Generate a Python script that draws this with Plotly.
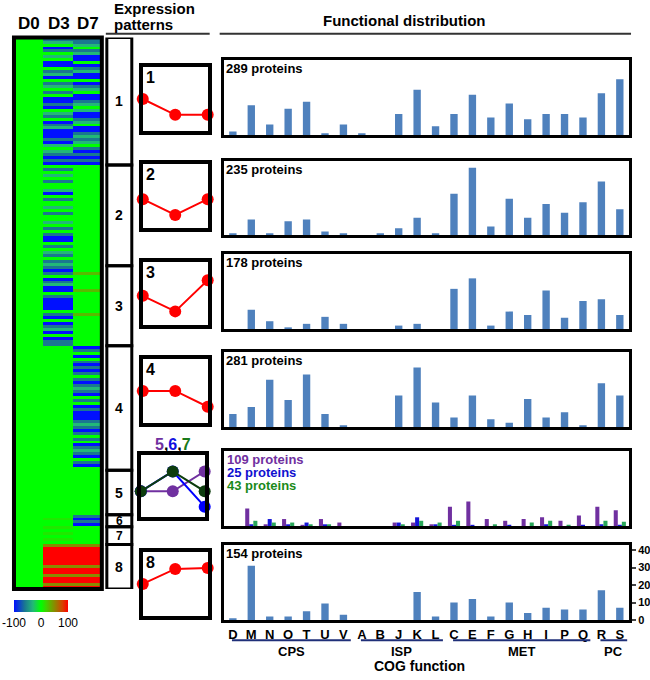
import plotly.graph_objects as go

W, H = 650, 680
def PX(x): return x / W
def PY(y): return 1 - y / H

FONT = "Arial, 'Liberation Sans', Helvetica, sans-serif"

# ---------------- data ----------------
categories = ["D", "M", "N", "O", "T", "U", "V", "A", "B", "J", "K", "L",
              "C", "E", "F", "G", "H", "I", "P", "Q", "R", "S"]
cluster_names = ["1", "2", "3", "4", "5", "6", "7", "8"]
protein_counts = [289, 235, 178, 281, 109, 25, 43, 154]

cog_c1 = [2, 17, 6, 15, 19, 1, 6, 1, 0, 12, 26, 5, 12, 23, 10, 18, 9, 12, 12, 10, 24, 32]
cog_c2 = [1, 9, 1, 8, 9, 2, 1, 0, 1, 4, 10, 1, 24, 39, 5, 21, 10, 18, 13, 19, 31, 15]
cog_c3 = [0, 11, 4.5, 1, 3, 7, 3, 0, 0, 2, 3, 0, 23, 29, 2, 10, 8, 22, 6.5, 16, 17, 8]
cog_c4 = [7.5, 11.5, 27, 15.5, 30, 7.5, 1, 0, 0, 18, 34, 14, 5.5, 18, 4.5, 2.5, 16, 5.5, 8.5, 1, 25, 18]
cog_c5 = [0, 10, 1, 4, 0.5, 4, 2, 0, 0, 2, 2, 1, 11, 14, 4, 3, 4, 5, 3, 6, 11, 9]
cog_c6 = [0, 1, 4, 1, 2, 1, 0, 0, 0, 2, 5, 1, 0.5, 0.5, 0, 0.5, 0, 1, 0, 0.5, 1, 0.5]
cog_c7 = [0, 3, 2, 2, 1, 1, 0, 0, 0, 1, 3, 2, 3, 0, 1, 0, 2, 3, 0.5, 0, 3, 2.5]
cog_c8 = [1, 31, 2, 2, 5, 9.5, 3, 0, 0, 0, 16, 2, 10, 12, 2, 10, 4, 7, 6, 6, 17, 7]

cog_groups = ["CPS", "ISP", "MET", "PC"]
group_first = [0, 7, 12, 20]
group_last = [6, 11, 19, 21]

# expression patterns (relative level at D0, D3, D7)
days = [0, 1, 2]
pat1 = [0, -1, -1]
pat2 = [-0.2, -1.2, -0.2]
pat3 = [-0.15, -1.15, 0.85]
pat4 = [0, 0, -1]
pat5 = [-0.35, -0.35, 0.95]
pat6 = [-0.35, 0.95, -1.35]
pat7 = [-0.35, 0.95, -0.35]
pat8 = [0, 0.95, 1.0]

# heatmap stripes (codes per ~3px row), D0 is the baseline (0)
code_values = {"B": -100, "T": -60, "t": -30, "G": 0, "g": 10, "o": 30, "O": 50, "R": 100}
heat_d3 = [
    "TtGBTGtGBB" "GTtBGTtGTG" "BBTBGtTGBT" "tBBBTBtGtT" "BTB",
    "GTGtGTGGtB" "GTGGtGTGGt" "GTGTBBGTGt" "TGTt",
    "TBTGBTtBBG" "TBBBBGTBGB" "TtBGBTT",
    "GGGGGGGGGG" "GGGGGGGGGG" "GGGGGGGGGG" "GGGGGGGGGG" "GG",
    "GGGGGGGGGG" "GGGGG",
    "GgGG",
    "gGgGgG",
    "ORRRRRROR" "RORROR",
]
heat_d7 = [
    "TTtGTtBBGB" "TtBBGBTtGB" "BTtGtBBTtG" "BBTtTtGTBT" "BTB",
    "GGGGGGGGGG" "GGGGGGGGGG" "GGGGGGGGGG" "GGGG",
    "GGoGGGGGoG" "GGGGGGoGGG" "GGGGGGG",
    "BTGBGTBTBT" "GTBTtTBGTG" "BTBBBTtTBT" "GTGBTtTBGT" "BG",
    "GGGGGGGGGG" "GGGGG",
    "TBTB",
    "GGGGGG",
    "ORRRRRROR" "RORROR",
]
heat_cols = ["D0", "D3", "D7"]
d0_level = 0

# ---------------- build ----------------
z = []
bounds = [0]
for a_str, b_str in zip(heat_d3, heat_d7):
    for a, b in zip(a_str, b_str):
        z.append([d0_level, code_values[a], code_values[b]])
    bounds.append(len(z))
N = len(z)

colorscale = [[0.0, "#0010ff"], [0.2, "#1a7890"], [0.35, "#22b878"], [0.5, "#00ff00"],
              [0.6, "#40d000"], [0.75, "#8a8a00"], [0.9, "#d84000"], [1.0, "#ff0000"]]

fig = go.Figure()
layout = dict(width=W, height=H, margin=dict(l=0, r=0, t=0, b=0),
              paper_bgcolor="white", plot_bgcolor="white", showlegend=False,
              font=dict(family=FONT, color="black"))

fig.add_trace(go.Heatmap(
    z=z, x=[0, 1, 2], y=list(range(N)), colorscale=colorscale, zmin=-100, zmax=100,
    xaxis="x", yaxis="y", hoverinfo="skip",
    colorbar=dict(orientation="h", x=PX(14), xanchor="left", y=PY(605), yanchor="top",
                  len=54, lenmode="pixels", thickness=12, thicknessmode="pixels",
                  tickvals=[-100, 0, 100], ticktext=["-100", "0", "100"], ticks="",
                  outlinewidth=0, xpad=0, ypad=0, tickfont=dict(size=12, family=FONT))))
layout["xaxis"] = dict(domain=[PX(14), PX(102)], range=[-0.5, 2.5], visible=False, anchor="y")
layout["yaxis"] = dict(domain=[PY(594), PY(37)], range=[N - 0.5, -0.5], visible=False, anchor="x")

shapes = []
ann = []

def A(text, x, y, size=13, color="black", xanchor="center", yanchor="middle", align="center", **kw):
    d = dict(text=text, x=x, y=y, showarrow=False, xanchor=xanchor, yanchor=yanchor, align=align,
             font=dict(size=size, color=color, family=FONT), xref=kw.pop("xref", "paper"),
             yref=kw.pop("yref", "paper"))
    d.update(kw)
    ann.append(d)

# heatmap frame
shapes.append(dict(type="rect", xref="paper", yref="paper", x0=PX(14), x1=PX(102), y0=PY(594), y1=PY(37),
                   line=dict(color="black", width=4)))
for i, name in enumerate(heat_cols):
    A("<b>%s</b>" % name, PX([29, 59, 88][i]), PY(23), size=17)

# cluster boxes
for k in range(len(cluster_names)):
    shapes.append(dict(type="rect", xref="paper", yref="y", x0=PX(107), x1=PX(132),
                       y0=bounds[k] - 0.5, y1=bounds[k + 1] - 0.5, line=dict(color="black", width=3)))
    A("<b>%s</b>" % cluster_names[k], PX(119.5), (bounds[k] + bounds[k + 1] - 1) / 2,
      size=14 if k not in (5, 6) else 12, yref="y")

# headers
A("<b>Expression</b>", PX(112), PY(8), size=15, xanchor="left", align="left")
A("<b>patterns</b>", PX(112), PY(23.5), size=15, xanchor="left", align="left")
shapes.append(dict(type="line", xref="paper", yref="paper", x0=PX(106), x1=PX(210), y0=PY(33), y1=PY(33),
                   line=dict(color="#333333", width=2)))
A("<b>Functional distribution</b>", PX(405), PY(20), size=15)
shapes.append(dict(type="line", xref="paper", yref="paper", x0=PX(220), x1=PX(632), y0=PY(33), y1=PY(33),
                   line=dict(color="#333333", width=2)))

# pattern boxes
pattern_boxes = [(141, 210, 65, 133), (141, 210, 163, 231), (141, 210, 262, 329),
                 (141, 210, 360, 428), (139, 207, 457, 523), (141, 210, 555, 623)]
pattern_series = [[(pat1, "#ff0000")], [(pat2, "#ff0000")], [(pat3, "#ff0000")], [(pat4, "#ff0000")],
                  [(pat5, "#7030a0"), (pat6, "#0000ff"), (pat7, "#0d3d0d")], [(pat8, "#ff0000")]]
pattern_labels = ["1", "2", "3", "4", None, "8"]
for i, (bx0, bx1, by0, by1) in enumerate(pattern_boxes):
    n = i + 2
    xa, ya = "x%d" % n, "y%d" % n
    layout["xaxis%d" % n] = dict(domain=[PX(bx0 + 2), PX(bx1 - 2)], range=[0, 2], anchor=ya,
                                 showline=True, mirror=True, linewidth=4, linecolor="black",
                                 showticklabels=False, ticks="", showgrid=False, zeroline=False)
    layout["yaxis%d" % n] = dict(domain=[PY(by1 - 2), PY(by0 + 2)], range=[-2, 2], anchor=xa,
                                 showline=True, mirror=True, linewidth=4, linecolor="black",
                                 showticklabels=False, ticks="", showgrid=False, zeroline=False)
    for vals, col in pattern_series[i]:
        fig.add_trace(go.Scatter(x=days, y=vals, xaxis=xa, yaxis=ya, mode="lines+markers",
                                 line=dict(color=col, width=2), marker=dict(color=col, size=12),
                                 cliponaxis=False, hoverinfo="skip"))
    if pattern_labels[i]:
        A("<b>%s</b>" % pattern_labels[i], PX(bx0 + 10), PY(by0 + 12), size=16)
A("<b><span style='color:#7030a0'>5</span>,<span style='color:#1010e0'>6</span>,"
  "<span style='color:#1a7a1a'>7</span></b>", PX(173), PY(448), size=16)

# bar panels
bar_boxes = [(58, 137), (160, 238), (254, 333), (353, 432), (453, 532), (548, 627)]
bar_sets = [[(cog_c1, "#4f81bd")], [(cog_c2, "#4f81bd")], [(cog_c3, "#4f81bd")], [(cog_c4, "#4f81bd")],
            [(cog_c5, "#7030a0"), (cog_c6, "#1515d8"), (cog_c7, "#29a85a")], [(cog_c8, "#4f81bd")]]
panel_counts = [[0], [1], [2], [3], [4, 5, 6], [7]]
text_colors = ["#7030a0", "#1010d0", "#1a8a1a"]
xidx = list(range(len(categories)))
for i, (by0, by1) in enumerate(bar_boxes):
    n = i + 8
    xa, ya = "x%d" % n, "y%d" % n
    last = (i == len(bar_boxes) - 1)
    layout["xaxis%d" % n] = dict(domain=[PX(224), PX(630)], range=[-0.5, len(categories) - 0.5], anchor=ya,
                                 showline=True, mirror=True, linewidth=3, linecolor="black",
                                 showgrid=False, zeroline=False, ticks="",
                                 showticklabels=last, tickvals=xidx,
                                 ticktext=["<b>%s</b>" % c for c in categories],
                                 tickfont=dict(size=13, family=FONT, color="black"))
    layout["yaxis%d" % n] = dict(domain=[PY(by1 - 1.5), PY(by0 + 1.5)], range=[0, 43], anchor=xa,
                                 showline=True, mirror=True, linewidth=3, linecolor="black",
                                 showgrid=False, zeroline=False,
                                 side="right", ticks="outside" if last else "", ticklen=4, tickwidth=2,
                                 showticklabels=last, tickvals=[0, 10, 20, 30, 40],
                                 ticktext=["<b>%d</b>" % v for v in [0, 10, 20, 30, 40]],
                                 tickfont=dict(size=11, family=FONT, color="black"))
    series = bar_sets[i]
    if len(series) == 1:
        vals, col = series[0]
        fig.add_trace(go.Bar(x=xidx, y=vals, xaxis=xa, yaxis=ya, marker=dict(color=col, line=dict(width=0)),
                             width=0.4, offset=-0.2, hoverinfo="skip"))
        A("<b>%d proteins</b>" % protein_counts[panel_counts[i][0]], PX(224), PY(by0 + 10),
          size=13, xanchor="left")
    else:
        offs = [-0.33, -0.11, 0.11]
        for j, (vals, col) in enumerate(series):
            fig.add_trace(go.Bar(x=xidx, y=vals, xaxis=xa, yaxis=ya,
                                 marker=dict(color=col, line=dict(width=0)),
                                 width=0.22, offset=offs[j], hoverinfo="skip"))
            A("<b>%d proteins</b>" % protein_counts[panel_counts[i][j]], PX(225), PY(463 + 13.5 * j),
              size=13, xanchor="left", color=text_colors[j])

# COG groups
for g, s, e in zip(cog_groups, group_first, group_last):
    shapes.append(dict(type="line", xref="x13", yref="paper", x0=s - 0.05, x1=e + 0.4,
                       y0=PY(646), y1=PY(646), line=dict(color="#1f2f78", width=2)))
    A("<b>%s</b>" % g, (s + e) / 2 + 0.17, PY(657), size=13, xref="x13")
A("<b>COG function</b>", PX(420), PY(672), size=14)

layout["shapes"] = shapes
layout["annotations"] = ann
layout["barmode"] = "overlay"
fig.update_layout(**layout)
fig.write_html(
    "out.html", config={"displayModeBar": False},
    post_script=("document.body.style.margin='0px';document.body.style.padding='0px';"
                 "document.body.style.overflow='hidden';document.documentElement.style.overflow='hidden';"
                 "var gd=document.getElementById('{plot_id}');gd.style.overflow='hidden';"
                 "var sc=gd.querySelector('.svg-container');if(sc){sc.style.overflow='hidden';}"))
